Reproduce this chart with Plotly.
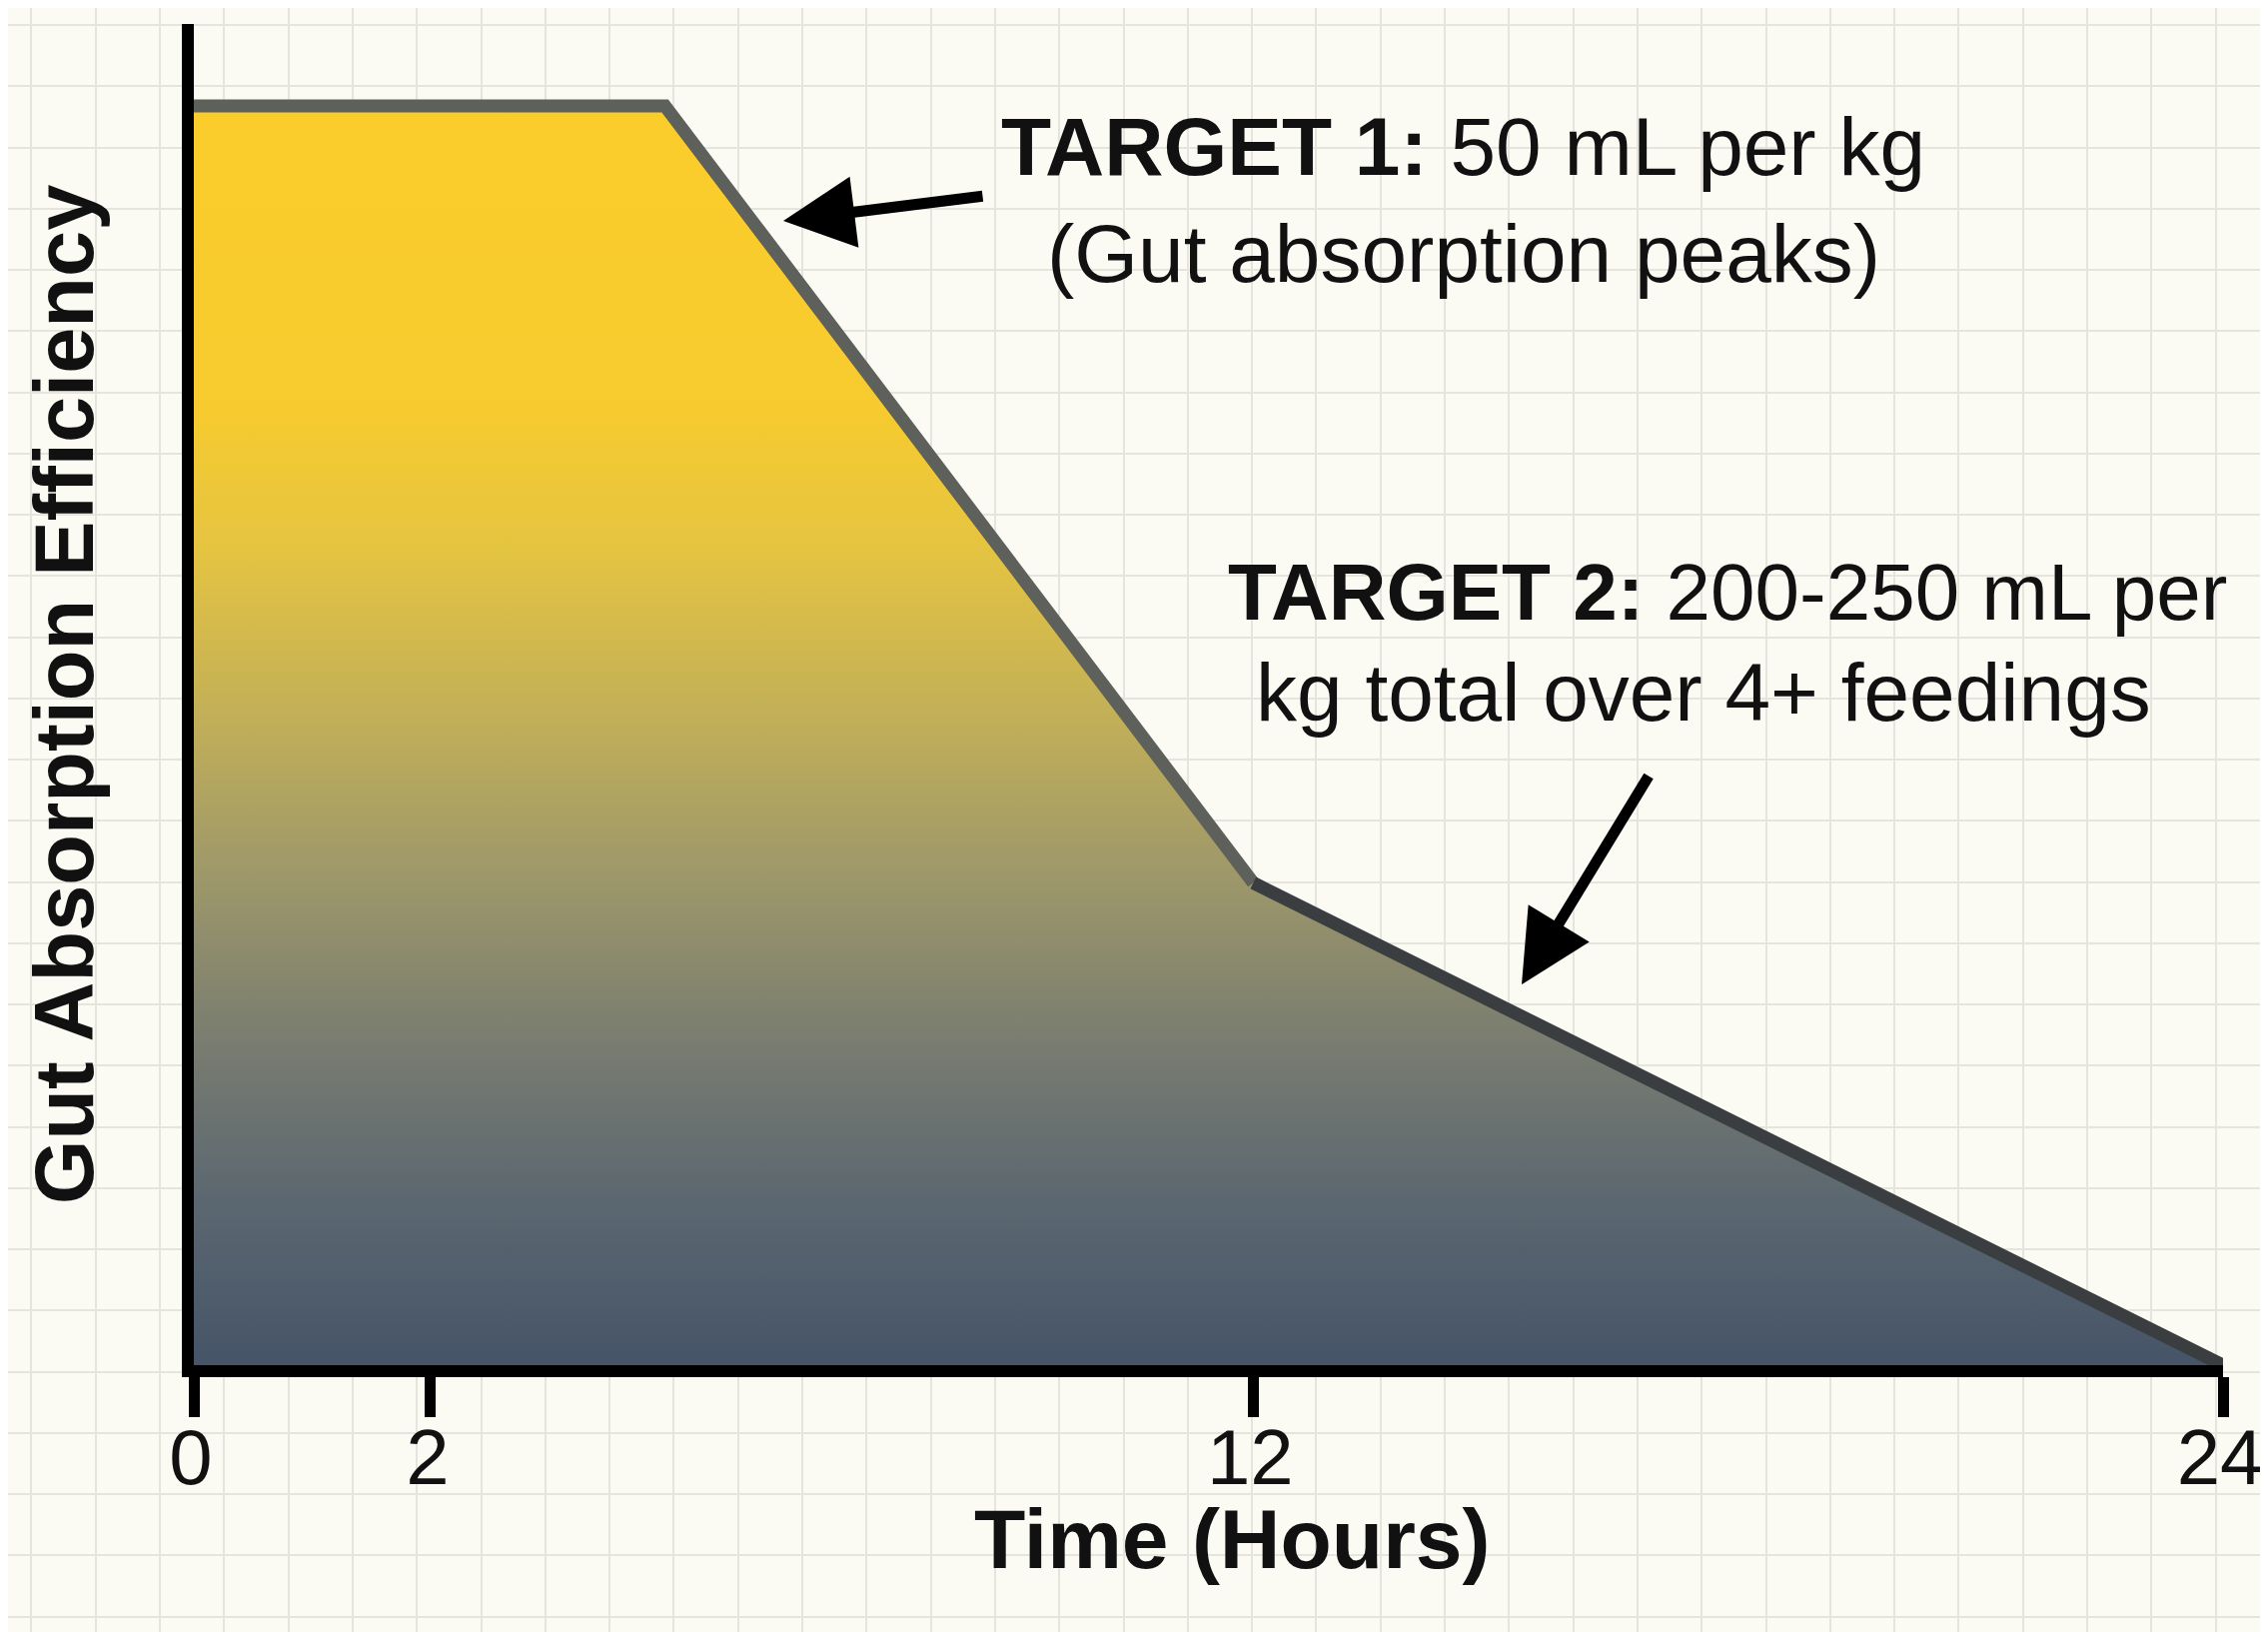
import numpy as np
import plotly.graph_objects as go

# ---------------- data ----------------
time_hours = [0, 4.85, 12, 24]          # hours
efficiency = [100, 100, 38.3, 0]         # relative gut absorption efficiency
tick_hours = [0, 2, 12, 24]
tick_labels = ["0", "2", "12", "24"]

x_title = "Time (Hours)"
y_title = "Gut Absorption Efficiency"
target1_line1 = "<b>TARGET 1:</b> 50 mL per kg"
target1_line2 = "(Gut absorption peaks)"
target2_line1 = "<b>TARGET 2:</b> 200-250 mL per"
target2_line2 = "kg total over 4+ feedings"

# ---------------- layout / style ----------------
W, H = 2270, 1633
BG = "#FBFBF4"
GRID = "#E5E5DE"
FONT = "Liberation Sans, Arial, Helvetica, sans-serif"
INK = "#111111"

# the hour axis is drawn with an uneven (piecewise) scale, as in the original
tick_pos = [0, 2.80, 12.53, 24]


def to_axis(h):
    return np.interp(h, tick_hours, tick_pos)


x_main = to_axis(time_hours)

# plot area in pixels (inner edges of the axis lines)
X0, X1 = 186, 2217
Y_TOP, Y_ZERO, Y_PLATEAU = 16, 1358, 98
y_max = max(efficiency) * (Y_ZERO - Y_TOP) / (Y_ZERO - Y_PLATEAU)

gradient = [
    [0.00, "#465468"],
    [0.13, "#5B6770"],
    [0.26, "#7A7D70"],
    [0.39, "#9E986A"],
    [0.52, "#C3B057"],
    [0.65, "#E5C441"],
    [0.76, "#F7CB2F"],
    [1.00, "#FBCD2B"],
]

fig = go.Figure()

# invisible background subplot providing the graph-paper grid
fig.add_trace(go.Scatter(x=[0], y=[0], mode="markers", marker=dict(opacity=0),
                         hoverinfo="skip", showlegend=False, xaxis="x", yaxis="y"))

# gradient filled area
fig.add_trace(go.Scatter(
    x=x_main, y=efficiency, mode="lines", fill="tozeroy",
    line=dict(width=0, color="rgba(0,0,0,0)"),
    fillgradient=dict(type="vertical", colorscale=gradient, start=0, stop=max(efficiency)),
    hoverinfo="skip", showlegend=False, xaxis="x2", yaxis="y2",
))

# outline, darkening toward the end
fig.add_trace(go.Scatter(
    x=x_main[:3], y=efficiency[:3], mode="lines",
    line=dict(width=13, color="#5E615B"),
    hoverinfo="skip", showlegend=False, xaxis="x2", yaxis="y2",
))
fig.add_trace(go.Scatter(
    x=x_main[2:], y=efficiency[2:], mode="lines",
    line=dict(width=13, color="#3B3E41"),
    hoverinfo="skip", showlegend=False, xaxis="x2", yaxis="y2",
))

ann = []


def text_ann(txt, px, py, size, bold=False):
    ann.append(dict(text=f"<b>{txt}</b>" if bold else txt,
                    x=px / W, y=1 - py / H, xref="paper", yref="paper",
                    xanchor="center", yanchor="middle", showarrow=False,
                    font=dict(family=FONT, size=size, color=INK)))


text_ann(target1_line1, 1456, 138, 82)
text_ann(target1_line2, 1457, 245, 82)
text_ann(target2_line1, 1721, 584, 80)
text_ann(target2_line2, 1697, 684, 82)
# horizontal axis title
text_ann(x_title, 1225, 1532, 84, bold=True)


def arrow_ann(tip_px, tail_px):
    ann.append(dict(text="", x=tip_px[0] / W, y=1 - tip_px[1] / H, xref="paper", yref="paper",
                    ax=tail_px[0] - tip_px[0], ay=tail_px[1] - tip_px[1],
                    showarrow=True, arrowhead=2, arrowsize=1.3, arrowwidth=11,
                    arrowcolor="#000000", standoff=0))


arrow_ann((776, 213), (977, 188))
arrow_ann((1515, 977), (1643, 767))

fig.update_layout(
    width=W, height=H,
    margin=dict(l=0, r=0, t=0, b=0),
    paper_bgcolor=BG, plot_bgcolor="rgba(0,0,0,0)",
    showlegend=False,
    font=dict(family=FONT, color=INK),
    xaxis=dict(domain=[0, 1], range=[0, W], showgrid=True, gridcolor=GRID, gridwidth=2,
               tick0=23.4, dtick=64.3, showticklabels=False, zeroline=False,
               showline=False, ticks="", fixedrange=True),
    yaxis=dict(domain=[0, 1], range=[H, 0], showgrid=True, gridcolor=GRID, gridwidth=2,
               tick0=17, dtick=61.25, showticklabels=False, zeroline=False,
               showline=False, ticks="", fixedrange=True),
    xaxis2=dict(domain=[X0 / W, X1 / W], range=[0, 24], anchor="y2",
                showgrid=False, zeroline=False, showline=True, linecolor="#000000", linewidth=12,
                ticks="outside", ticklen=40, tickwidth=11, tickcolor="#000000",
                tickvals=to_axis(tick_hours), ticktext=tick_labels,
                tickfont=dict(family=FONT, size=78, color=INK),
                ticklabelstandoff=-27, ticklabelshift=-3, ticklabeloverflow="allow",
                automargin=False),
    yaxis2=dict(domain=[(H - Y_ZERO) / H, (H - Y_TOP) / H], range=[0, y_max], anchor="x2",
                showgrid=False, zeroline=False, showline=True, linecolor="#000000", linewidth=12,
                ticks="", showticklabels=False,
                title=dict(text=f"<b>{y_title}</b>", font=dict(family=FONT, size=83, color=INK),
                           standoff=66),
                automargin=False),
    annotations=ann,
)

fig.write_html("out.html")
